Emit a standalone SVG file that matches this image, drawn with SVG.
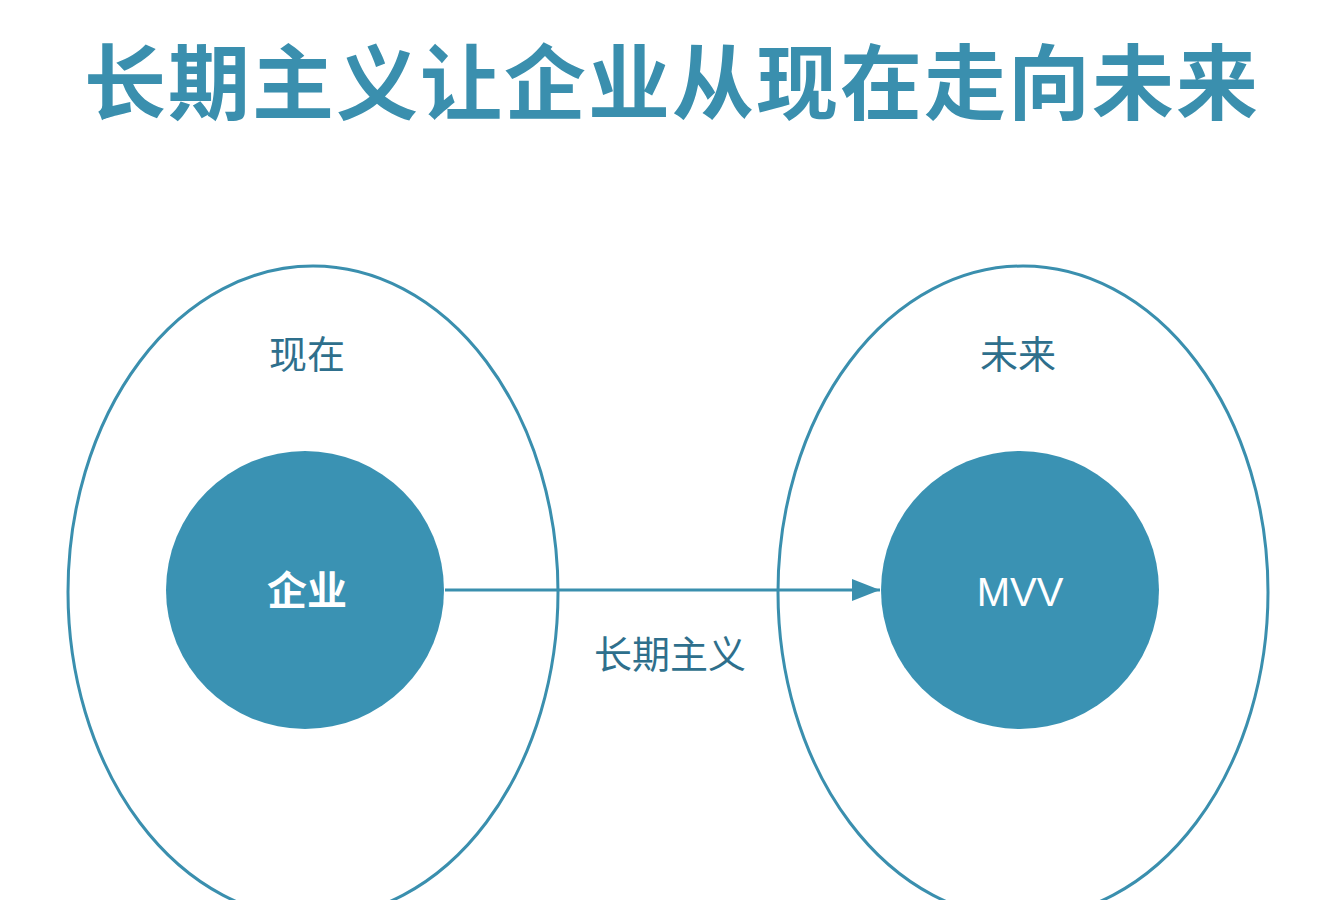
<svg xmlns="http://www.w3.org/2000/svg" width="1344" height="900" viewBox="0 0 1344 900">
<defs>
<style>
.t{font-family:"Noto Sans CJK SC","Liberation Sans",sans-serif;}
.ring{fill:none;stroke:#3a8fae;stroke-width:3}
.core{fill:#3a92b3}
.lbl{font-size:38px;fill:#2e6f8c;text-anchor:middle}
.in{font-size:40px;fill:#fff;text-anchor:middle;font-weight:bold}
</style>
<marker id="ah" markerWidth="28" markerHeight="22" refX="28" refY="11" orient="auto" markerUnits="userSpaceOnUse" viewBox="0 0 28 22"><path d="M0,0 L28,11 L0,22 Z" fill="#3a8fae"/></marker>
</defs>
<rect width="1344" height="900" fill="#fff"/>
<text class="t" x="672" y="113" font-size="82" font-weight="bold" fill="#3a8fae" text-anchor="middle" letter-spacing="2">长期主义让企业从现在走向未来</text>
<g id="now"><ellipse class="ring" cx="313" cy="592" rx="245" ry="326"/><text class="t lbl" x="307" y="368">现在</text></g>
<g id="future"><ellipse class="ring" cx="1023" cy="592" rx="245" ry="326"/><text class="t lbl" x="1018" y="368">未来</text></g>
<g id="company"><circle class="core" cx="305" cy="590" r="139"/><text class="t in" x="307" y="605">企业</text></g>
<g id="mvv"><circle class="core" cx="1020" cy="590" r="139"/><text class="in" style="font-family:'Liberation Sans',sans-serif;font-weight:normal" x="1020" y="606" font-size="42">MVV</text></g>
<g id="connectors"><line x1="445" y1="590" x2="880" y2="590" stroke="#3a8fae" stroke-width="3" marker-end="url(#ah)"/><text class="t lbl" x="670" y="668">长期主义</text></g>
</svg>
